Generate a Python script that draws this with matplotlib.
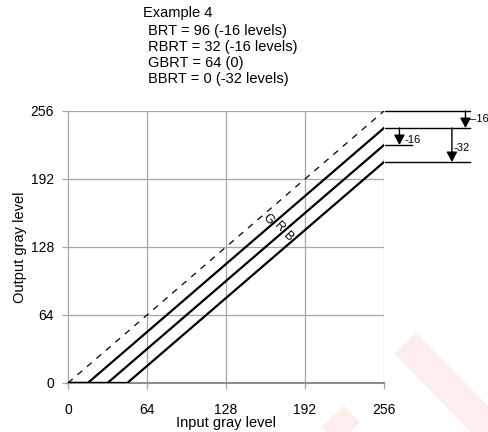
#!/usr/bin/env python

import matplotlib.pyplot as plt
from matplotlib.lines import Line2D

plt.rcParams["font.family"] = ["Liberation Sans", "DejaVu Sans"]

# gray level axes
tick_levels = [0, 64, 128, 192, 256]
tick_labels = ["0", "64", "128", "192", "256"]

# per-channel level offsets (G, R, B)
channels = ["G", "R", "B"]
offsets = [16, 32, 48]
label_x = [162, 171, 178]

header = ["Example 4",
          "BRT = 96 (-16 levels)",
          "RBRT = 32 (-16 levels)",
          "GBRT = 64 (0)",
          "BBRT = 0 (-32 levels)"]

W, H = 489, 432
fig = plt.figure(figsize=(W / 100, H / 100), dpi=100)

# faint diagonal stamp in the lower right corner
def px(x, y):
    return x / W, 1 - y / H

for (x0, y0), (x1, y1) in [((405, 343), (500, 440)), ((333, 416), (360, 445))]:
    a, b = px(x0, y0), px(x1, y1)
    fig.add_artist(Line2D([a[0], b[0]], [a[1], b[1]], transform=fig.transFigure,
                          color="#fdeded", lw=22, solid_capstyle="butt", zorder=0))

ax = fig.add_axes([68 / W, 49 / H, 316 / W, 272 / H])
ax.set_xlim(0, 256)
ax.set_ylim(0, 256)
ax.set_facecolor("none")

grid_c = "#a6a6a6"
for v in tick_levels[1:]:
    ax.axvline(v, color=grid_c, lw=0.9, zorder=1)
    ax.axhline(v, color=grid_c, lw=0.9, zorder=1)

for s in ["top", "right"]:
    ax.spines[s].set_visible(False)
ax.spines["left"].set_color(grid_c)
ax.spines["left"].set_linewidth(0.9)
ax.spines["bottom"].set_color("#8c8c8c")
ax.spines["bottom"].set_linewidth(1.5)

ax.set_xticks(tick_levels, tick_labels)
ax.set_yticks(tick_levels, tick_labels)
ax.tick_params(axis="x", colors=grid_c, length=4, width=0.9, pad=10.5, labelsize=10,
               labelcolor="black")
ax.tick_params(axis="y", colors=grid_c, length=4, width=0.9, pad=6, labelsize=10,
               labelcolor="black")

# identity reference
ax.plot([0, 256], [0, 256], color="black", lw=0.9, ls=(0, (5, 5)), zorder=3)

# shifted channel transfer lines
for name, off, lx in zip(channels, offsets, label_x):
    ax.plot([0, off, 256], [0, 0, 256 - off], color="black", lw=1.6,
            solid_joinstyle="miter", zorder=4)
    ax.text(lx, lx - off + 8, name, rotation=-45, ha="center", va="center",
            fontsize=9, zorder=5)

ax.set_xlabel("Input gray level", fontsize=10.5)
ax.set_ylabel("Output gray level", fontsize=10.5)
ax.xaxis.set_label_coords(0.5, -0.121)
ax.yaxis.set_label_coords(-0.13, 0.5)

# level differences marked outside the plot on the right
ends = [256] + [256 - o for o in offsets]
for lvl, x_end in [(ends[0], 326), (ends[1], 326), (ends[2], 279), (ends[3], 326)]:
    ax.plot([257, x_end], [lvl, lvl], color="black", lw=1.0, clip_on=False)

arrows = [(322, ends[0], ends[1], "\u201316", 325.5, 248),
          (268.5, ends[1], ends[2], "-16", 272.5, 229),
          (311, ends[1], ends[3], "-32", 312.5, 221)]
for x, top, tip, txt, tx, ty in arrows:
    ax.annotate("", xy=(x, tip), xytext=(x, top), annotation_clip=False,
                arrowprops=dict(arrowstyle="-|>,head_length=0.6,head_width=0.32",
                                color="black", lw=1.0, shrinkA=0, shrinkB=0))
    ax.text(tx, ty, txt, fontsize=8, ha="left", va="center", clip_on=False)

fig.text(143 / W, 1 - 13 / H, header[0], fontsize=10.5, ha="left", va="center")
for i, line in enumerate(header[1:]):
    fig.text(148 / W, 1 - (31 + 16 * i) / H, line, fontsize=10.5, ha="left", va="center")

fig.savefig("out.png", dpi=100)
